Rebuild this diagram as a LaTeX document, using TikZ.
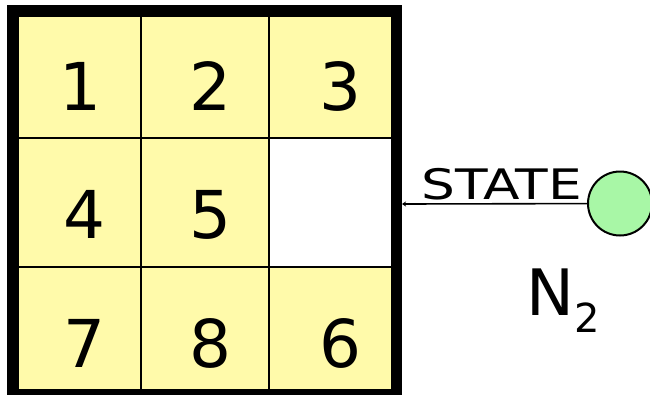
\documentclass[tikz,border=0pt]{standalone}
\usepackage{fontspec}
\setmainfont{DejaVu Sans}
\usetikzlibrary{arrows.meta}
\definecolor{cellyellow}{HTML}{FFFAAA}
\definecolor{nodegreen}{HTML}{A8F7A6}
\begin{document}
\begin{tikzpicture}[x=1pt,y=-1pt,
  gridline/.style={line width=2pt, black},
  digit/.style={font=\fontsize{66}{66}\selectfont, inner sep=0pt, anchor=base},
  statenode/.style={circle, draw=black, line width=2pt, fill=nodegreen, minimum size=64pt, inner sep=0pt},
  link/.style={line width=1.6pt, black, -{Stealth[length=4pt,width=5pt]}}]
\useasboundingbox (0,0) rectangle (650,397);
% board
\fill[black] (7,5) rectangle (402,395);
\fill[cellyellow] (19,17) rectangle (391,389);
\fill[white] (269,138) rectangle (391,267);
\draw[gridline] (141,17) -- (141,389);
\draw[gridline] (269,17) -- (269,389);
\draw[gridline] (19,138) -- (391,138);
\draw[gridline] (19,267) -- (391,267);
% digits
\node[digit] (d1) at (80,110) {1};
\node[digit] (d2) at (210,110) {2};
\node[digit] (d3) at (340,110) {3};
\node[digit] (d4) at (84,238) {4};
\node[digit] (d5) at (210,238) {5};
\node[digit] (d7) at (84,367) {7};
\node[digit] (d8) at (210,367) {8};
\node[digit] (d6) at (340,367) {6};
% state node
\node[statenode] (n2) at (620,203.5) {};
\coordinate (boardE) at (402,204);
\draw[link] (n2) -- (boardE);
\node[font=\fontsize{42}{42}\selectfont, inner sep=0pt, anchor=base west, xscale=1.27, transform shape] (lbl) at (421,199) {STATE};
\node[font=\fontsize{64}{64}\selectfont, inner sep=0pt, anchor=base west] (name) at (526,315) {N\raisebox{-17pt}{\fontsize{40}{40}\selectfont 2}};
\end{tikzpicture}
\end{document}
